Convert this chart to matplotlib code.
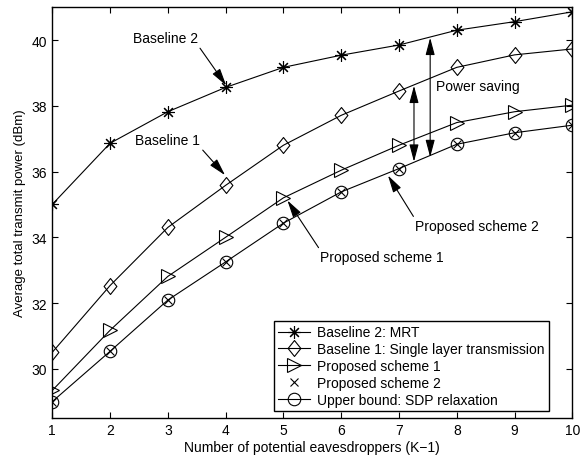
import numpy as np
import matplotlib
matplotlib.use('Agg')
import matplotlib.pyplot as plt
from matplotlib.path import Path

plt.rcParams['font.family'] = ['Liberation Sans', 'DejaVu Sans']

#########################
# data
K = [1, 2, 3, 4, 5, 6, 7, 8, 9, 10]
baseline2_mrt = [35.0, 36.86, 37.82, 38.56, 39.17, 39.54, 39.85, 40.30, 40.56, 40.86]
baseline1_single = [30.5, 32.53, 34.30, 35.58, 36.80, 37.71, 38.45, 39.17, 39.55, 39.73]
proposed1 = [29.34, 31.17, 32.81, 34.00, 35.20, 36.04, 36.80, 37.49, 37.82, 38.02]
proposed2 = [29.0, 30.53, 32.09, 33.25, 34.43, 35.38, 36.09, 36.83, 37.18, 37.41]
upper_sdp = [29.0, 30.53, 32.09, 33.25, 34.43, 35.38, 36.09, 36.83, 37.18, 37.41]
###########################

# matlab-like diamond, a bit taller than wide
diamond = Path([(0, 1), (0.8, 0), (0, -1), (-0.8, 0), (0, 1)],
               [Path.MOVETO, Path.LINETO, Path.LINETO, Path.LINETO, Path.CLOSEPOLY])

fig = plt.figure(figsize=(5.87, 4.56), dpi=100)
ax = fig.add_axes([0.089, 0.081, 0.886, 0.901])

ax.plot(K, baseline2_mrt, '-', color='k', lw=0.8, marker=(8, 2, 0), ms=9, mew=0.8,
        label='Baseline 2: MRT')
ax.plot(K, baseline1_single, '-', color='k', lw=0.8, marker=diamond, ms=11.5, mfc='none', mew=0.8,
        label='Baseline 1: Single layer transmission')
ax.plot(K, proposed1, '-', color='k', lw=0.8, marker='>', ms=10, mfc='none', mew=0.8,
        label='Proposed scheme 1')
ax.plot(K, proposed2, 'x', color='k', ms=6, mew=0.8, label='Proposed scheme 2')
ax.plot(K, upper_sdp, '-', color='k', lw=0.8, marker='o', ms=9, mfc='none', mew=0.8,
        label='Upper bound: SDP relaxation')

ax.set_xlim(1, 10)
ax.set_ylim(28.5, 41)
ax.set_xticks(range(1, 11))
ax.set_yticks([30, 32, 34, 36, 38, 40])
ax.tick_params(direction='in', top=True, right=True, labelsize=10, length=4)
for s in ax.spines.values():
    s.set_linewidth(1.0)
ax.set_xlabel('Number of potential eavesdroppers (K\u22121)', fontsize=10, labelpad=2)
ax.set_ylabel('Average total transmit power (dBm)', fontsize=9.5, labelpad=4)

head = '-|>,head_length=0.75,head_width=0.2'
arr = dict(arrowstyle=head, color='k', lw=0.8, mutation_scale=14, shrinkA=0, shrinkB=0)
ax.annotate('Baseline 2', xy=(4.01, 38.62), xytext=(2.96, 40.05), fontsize=10,
            ha='center', va='center', arrowprops=dict(arr, relpos=(1, 0)))
ax.annotate('Baseline 1', xy=(3.99, 35.89), xytext=(3.0, 36.95), fontsize=10,
            ha='center', va='center', arrowprops=dict(arr, relpos=(1, 0)))
ax.annotate('Proposed scheme 1', xy=(5.07, 35.12), xytext=(5.64, 33.6), fontsize=10,
            ha='left', va='top', arrowprops=dict(arr, relpos=(0, 1)))
ax.annotate('Proposed scheme 2', xy=(6.81, 35.88), xytext=(7.28, 34.55), fontsize=10,
            ha='left', va='top', arrowprops=dict(arr, relpos=(0, 1)))

dbl = dict(arrowstyle='<|-|>,head_length=0.75,head_width=0.2', color='k', lw=0.8,
           mutation_scale=14, shrinkA=0, shrinkB=0)
ax.annotate('', xy=(7.54, 40.07), xytext=(7.54, 36.44), arrowprops=dbl)
ax.annotate('', xy=(7.26, 38.61), xytext=(7.26, 36.3), arrowprops=dbl)
ax.text(7.64, 38.59, 'Power saving', fontsize=10, ha='left', va='center')

leg = ax.legend(loc='lower right', bbox_to_anchor=(0.955, 0.018), fontsize=10,
                frameon=True, fancybox=False, edgecolor='k', framealpha=1,
                handlelength=2.3, handletextpad=0.5, labelspacing=0.2,
                borderpad=0.3, borderaxespad=0)
leg.get_frame().set_linewidth(1.0)

plt.savefig('out.png', dpi=100)
